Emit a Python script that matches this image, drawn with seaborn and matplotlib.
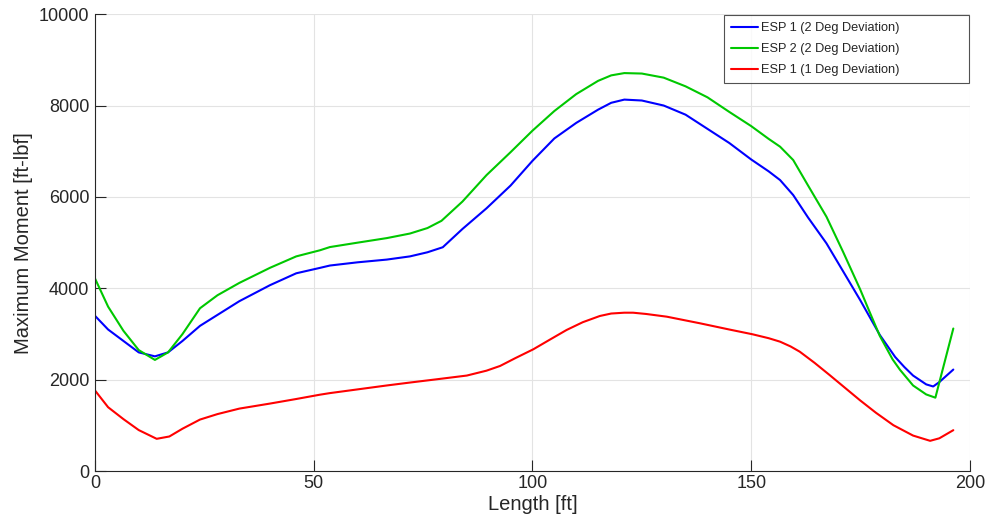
import pandas as pd
import seaborn as sns
import matplotlib
matplotlib.use('Agg')
import matplotlib.pyplot as plt

# values
esp1_2deg_x = [0, 3, 6.5, 10, 13.7, 16.7, 20, 24, 33, 40, 46, 51.4, 53.7, 60, 66.7, 72, 76, 79.5,
               84, 89.5, 95, 100, 105, 110, 115, 118, 121, 125, 130, 135, 140, 145, 150, 154,
               156.6, 159.6, 163, 167.2, 171, 174.9, 179.4, 182.9, 185, 187, 190, 191.6, 193, 196.2]
esp1_2deg_y = [3400, 3100, 2850, 2600, 2513, 2600, 2850, 3180, 3720, 4070, 4330, 4448, 4500, 4570,
               4630, 4700, 4790, 4900, 5300, 5752, 6250, 6790, 7280, 7620, 7910, 8060, 8130, 8110,
               8000, 7800, 7490, 7180, 6820, 6560, 6370, 6042, 5550, 4986, 4375, 3746, 2981, 2500,
               2280, 2093, 1900, 1854, 1950, 2224]

esp2_2deg_x = [0, 3, 6.5, 10, 13.7, 16.7, 20, 24, 28, 33, 40, 46, 51.4, 53.7, 60, 66.7, 72, 76,
               79.2, 84, 89.5, 95, 100, 105, 110, 115, 118, 121, 125, 130, 135, 140, 145, 150, 154,
               156.6, 159.6, 163, 167.2, 171, 174.9, 177, 179.4, 182.3, 184, 187, 190, 192.1, 196.2]
esp2_2deg_y = [4217, 3600, 3072, 2650, 2435, 2600, 3000, 3565, 3850, 4120, 4450, 4700, 4833, 4904,
               5000, 5100, 5200, 5320, 5478, 5900, 6478, 6980, 7450, 7880, 8250, 8540, 8660, 8710,
               8700, 8610, 8420, 8180, 7860, 7550, 7270, 7100, 6808, 6250, 5568, 4800, 3980, 3500,
               2960, 2450, 2220, 1876, 1680, 1609, 3122]

esp1_1deg_x = [0, 3, 6.5, 10, 14.1, 17, 20, 24, 28, 33, 40, 46, 51.4, 53.7, 60, 66.7, 72, 78, 85,
               89.5, 92.6, 96, 100.2, 104, 107.8, 111.5, 115.4, 118, 121, 123, 126, 130.7, 138.3,
               145, 150.3, 154, 156.6, 159, 161.1, 164.5, 167.9, 171.5, 174.9, 178.5, 182.5, 187,
               190.9, 193, 196.2]
esp1_1deg_y = [1767, 1400, 1140, 900, 709, 760, 930, 1130, 1250, 1370, 1480, 1580, 1674, 1709, 1790,
               1876, 1940, 2010, 2093, 2200, 2303, 2470, 2668, 2880, 3090, 3260, 3396, 3450, 3468,
               3468, 3440, 3381, 3236, 3100, 2996, 2910, 2834, 2730, 2615, 2370, 2106, 1820, 1550,
               1280, 1007, 780, 665, 720, 898]

labels = ['ESP 1 (2 Deg Deviation)', 'ESP 2 (2 Deg Deviation)', 'ESP 1 (1 Deg Deviation)']
colors = ['#0000ff', '#00c800', '#ff0000']

sns.set_style('whitegrid')
plt.rcParams['font.family'] = ['Liberation Sans', 'DejaVu Sans']
plt.rcParams['text.color'] = '#262626'

fig = plt.figure(figsize=(10.02, 5.23), dpi=100)
ax = fig.add_axes([0.0948, 0.099, 0.8732, 0.874])

series = [(esp1_2deg_x, esp1_2deg_y), (esp2_2deg_x, esp2_2deg_y), (esp1_1deg_x, esp1_1deg_y)]
for (xs, ys), lab, col in zip(series, labels, colors):
    df = pd.DataFrame({'x': xs, 'y': ys})
    sns.lineplot(data=df, x='x', y='y', sort=False, color=col, lw=1.5, label=lab, ax=ax)

ax.set_xlim(0, 200)
ax.set_ylim(0, 10000)
ax.set_xticks([0, 50, 100, 150, 200])
ax.set_yticks([0, 2000, 4000, 6000, 8000, 10000])
ax.grid(True, color='#e3e3e3', linewidth=0.8)

ax.set_xlabel('Length [ft]', fontsize=14.5, color='#262626', labelpad=2)
ax.set_ylabel('Maximum Moment [ft-lbf]', fontsize=14.5, color='#262626', labelpad=4)
ax.tick_params(axis='both', direction='in', length=8, width=0.8, colors='#262626',
               labelsize=13, left=True, bottom=True)
ax.tick_params(axis='x', pad=3)
ax.tick_params(axis='y', pad=4)

for side in ['top', 'right']:
    ax.spines[side].set_visible(False)
for side in ['left', 'bottom']:
    ax.spines[side].set_color('#262626')
    ax.spines[side].set_linewidth(0.8)

# MATLAB style legend box: wide, text left aligned
leg = ax.legend(loc='upper left', bbox_to_anchor=(0.719, 0.0, 0.28, 0.998), mode='expand',
                fontsize=9.2, frameon=True, fancybox=False, borderaxespad=0.0,
                handlelength=2.1, handletextpad=0.25, labelspacing=0.72, borderpad=0.55)
leg.get_frame().set_edgecolor('#262626')
leg.get_frame().set_linewidth(0.8)

fig.savefig('out.png', dpi=100)
